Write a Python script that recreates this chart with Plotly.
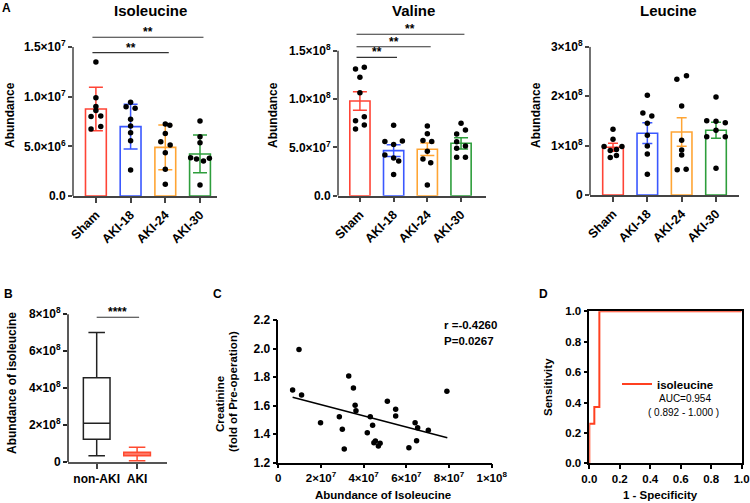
import plotly.graph_objects as go

W, H = 750, 503
FONT = "Liberation Sans, Arial, sans-serif"

groups = ["Sham", "AKI-18", "AKI-24", "AKI-30"]
group_colors = ["#FF4436", "#3A58FF", "#FFA534", "#2E9E3C"]

# Isoleucine (panel A, left)
ile_mean = [8.76e6, 6.98e6, 4.90e6, 4.23e6]
ile_err = [2.2e6, 2.25e6, 2.25e6, 1.9e6]
ile_points = [
    [13.5e6, 9.9e6, 9.0e6, 8.6e6, 8.0e6, 8.05e6, 6.75e6, 7.0e6],
    [8.99e6, 9.43e6, 8.83e6, 7.72e6, 7.05e6, 6.37e6, 5.57e6, 2.62e6],
    [7.25e6, 7.12e6, 6.3e6, 5.47e6, 5.13e6, 4.36e6, 2.69e6, 1.18e6],
    [7.55e6, 5.97e6, 5.37e6, 3.86e6, 3.72e6, 3.52e6, 3.79e6, 1.1e6],
]
ile_jitter = [
    [0, 0, 0, 0, -0.14, 0.14, -0.14, 0.14],
    [-0.13, 0, 0.13, 0, 0, 0, 0, 0],
    [0, 0.13, 0, -0.13, 0.14, 0, 0, 0],
    [0, 0, 0, -0.27, -0.1, 0.1, 0.27, 0],
]
ile_ticks = [0, 5e6, 1e7, 1.5e7]
ile_ticktext = ["0.0", "5.0×10<sup>6</sup>", "1.0×10<sup>7</sup>", "1.5×10<sup>7</sup>"]
ile_sig = [(3, 1.598e7), (2, 1.443e7)]

# Valine (panel A, middle)
val_mean = [9.8e7, 4.66e7, 4.8e7, 5.42e7]
val_err = [9.6e6, 6.0e6, 6.5e6, 5.8e6]
val_points = [
    [13.11e7, 13.28e7, 12.25e7, 10.66e7, 7.76e7, 8.17e7, 6.9e7, 7.31e7],
    [7.3e7, 5.6e7, 5.65e7, 5.3e7, 4.2e7, 3.9e7, 3.6e7, 2.2e7],
    [7.2e7, 6.4e7, 5.7e7, 5.6e7, 4.6e7, 3.8e7, 3.4e7, 1.1e7],
    [7.49e7, 6.8e7, 6.38e7, 5.59e7, 5.14e7, 4.9e7, 3.97e7, 3.97e7],
]
val_jitter = [
    [-0.13, 0.13, 0, 0, -0.13, 0.13, -0.13, 0.13],
    [0, -0.26, 0.26, 0, -0.26, 0, 0.15, 0],
    [0, 0, -0.13, 0.13, 0, -0.13, 0.1, 0],
    [0, 0.13, -0.13, -0.13, 0.13, -0.13, -0.13, 0.13],
]
val_ticks = [0, 5e7, 1e8, 1.5e8]
val_ticktext = ["0.0", "5.0×10<sup>7</sup>", "1.0×10<sup>8</sup>", "1.5×10<sup>8</sup>"]
val_sig = [(3, 1.67e8), (2, 1.541e8), (1, 1.432e8)]

# Leucine (panel A, right)
leu_mean = [0.965e8, 1.25e8, 1.275e8, 1.31e8]
leu_err = [0.8e7, 2.1e7, 2.9e7, 1.6e7]
leu_points = [
    [1.33e8, 1.13e8, 0.98e8, 0.98e8, 0.90e8, 0.92e8, 0.76e8, 0.80e8],
    [2.02e8, 1.66e8, 1.60e8, 1.45e8, 1.21e8, 0.99e8, 0.83e8, 0.42e8],
    [2.34e8, 2.41e8, 1.80e8, 1.11e8, 0.91e8, 0.81e8, 0.51e8, 0.52e8],
    [1.98e8, 1.50e8, 1.49e8, 1.46e8, 1.31e8, 1.18e8, 1.18e8, 0.54e8],
]
leu_jitter = [
    [0, 0, -0.26, 0.26, -0.08, 0.1, -0.08, 0.1],
    [0, -0.13, 0.13, 0, 0, 0, 0, 0],
    [-0.14, 0.14, 0, 0, 0, 0, -0.13, 0.13],
    [0, -0.27, 0, 0.27, 0, -0.27, 0.27, 0],
]
leu_ticks = [0, 1e8, 2e8, 3e8]
leu_ticktext = ["0", "1×10<sup>8</sup>", "2×10<sup>8</sup>", "3×10<sup>8</sup>"]

# Panel B: box plot
box_groups = ["non-AKI", "AKI"]
box_colors = ["#222222", "#FF4A30"]
box_lower = [0.34e8, 0.07e8]
box_q1 = [1.23e8, 0.34e8]
box_median = [2.10e8, 0.43e8]
box_q3 = [4.57e8, 0.53e8]
box_upper = [7.02e8, 0.80e8]
box_ticks = [0, 2e8, 4e8, 6e8, 8e8]
box_ticktext = ["0", "2×10<sup>8</sup>", "4×10<sup>8</sup>", "6×10<sup>8</sup>", "8×10<sup>8</sup>"]
box_sig_y = 7.84e8

# Panel C: correlation
corr_x = [0.67e7, 0.97e7, 1.09e7, 1.98e7, 2.86e7, 3.0e7, 3.09e7, 3.3e7, 3.52e7, 3.6e7,
          3.64e7, 4.17e7, 4.31e7, 4.42e7, 4.48e7, 4.55e7, 4.69e7, 4.77e7, 5.11e7, 5.5e7,
          5.5e7, 6.12e7, 6.41e7, 6.48e7, 6.53e7, 7.03e7, 7.9e7]
corr_y = [1.709, 1.994, 1.674, 1.480, 1.522, 1.434, 1.296, 1.807, 1.723, 1.602,
          1.564, 1.410, 1.522, 1.462, 1.340, 1.352, 1.317, 1.336, 1.630, 1.574,
          1.527, 1.305, 1.480, 1.354, 1.445, 1.427, 1.700]
fit_x = [0.67e7, 7.92e7]
fit_y = [1.658, 1.375]
corr_xticks = [0, 2e7, 4e7, 6e7, 8e7, 1e8]
corr_xticktext = ["0", "2×10<sup>7</sup>", "4×10<sup>7</sup>", "6×10<sup>7</sup>", "8×10<sup>7</sup>", "1×10<sup>8</sup>"]
corr_yticks = [1.2, 1.4, 1.6, 1.8, 2.0, 2.2]

# Panel D: ROC
roc_fpr = [0, 0, 0.033, 0.033, 0.066, 0.066, 1.0]
roc_tpr = [0, 0.26, 0.26, 0.37, 0.37, 1.0, 1.0]
roc_ticks = [0, 0.2, 0.4, 0.6, 0.8, 1.0]


def px_x(p0, p1):
    return [p0 / W, p1 / W]


def px_y(top, bottom):
    return [1 - bottom / H, 1 - top / H]


def tfont(size=11, weight="bold"):
    return dict(family=FONT, size=size, color="black", weight=weight)


fig = go.Figure()
shapes = []
annotations = []

AXC = "#444444"
COMMON = dict(showgrid=False, zeroline=False, automargin=False, ticks="outside", tickwidth=1.5)


def bar_panel(n, means, errs, points, jitter, x_dom, bottom_px, tick_top_px, tickvals, ticktext,
              y_top, x_range, cap, sig=None):
    xa = "x" if n == 1 else f"x{n}"
    ya = "y" if n == 1 else f"y{n}"
    per = (bottom_px - tick_top_px) / tickvals[-1]
    top_px = bottom_px - y_top * per
    for i, g in enumerate(groups):
        c = group_colors[i]
        fig.add_trace(go.Bar(
            x=[i], y=[means[i]], width=0.6, xaxis=xa, yaxis=ya, showlegend=False,
            marker=dict(color="white", line=dict(color=c, width=1.6)),
            error_y=dict(type="data", array=[errs[i]], color=c, thickness=1.5, width=cap),
        ))
        fig.add_trace(go.Scatter(
            x=[i + j for j in jitter[i]], y=points[i], mode="markers", xaxis=xa, yaxis=ya,
            showlegend=False, marker=dict(color="black", size=5.5),
        ))
    lay = {}
    lay["xaxis" if n == 1 else f"xaxis{n}"] = dict(
        domain=px_x(*x_dom), range=x_range, anchor=ya, tickvals=list(range(4)), ticktext=groups,
        tickangle=-45, ticklen=5, tickcolor=AXC,
        showline=True, linecolor=AXC, linewidth=1.5, tickfont=tfont(12.5), **COMMON,
    )
    lay["yaxis" if n == 1 else f"yaxis{n}"] = dict(
        domain=px_y(top_px, bottom_px), range=[0, y_top], anchor=xa, tickvals=tickvals,
        ticktext=ticktext, ticklen=4, tickcolor=AXC,
        showline=False, tickfont=tfont(12), **COMMON,
    )
    fig.update_layout(**lay)
    shapes.append(dict(type="line", xref=f"{xa} domain", yref=ya, x0=0, x1=0, y0=0,
                       y1=tickvals[-1], line=dict(color=AXC, width=1.5)))
    for target, yv in (sig or []):
        shapes.append(dict(type="line", xref=xa, yref=ya, x0=-0.1, x1=target + 0.1, y0=yv, y1=yv,
                           line=dict(color="#333333", width=1.2)))
        annotations.append(dict(xref=xa, yref=ya, x=(target) / 2, y=yv, text="**", showarrow=False,
                                yanchor="bottom", yshift=-4, font=tfont(12)))


bar_panel(1, ile_mean, ile_err, ile_points, ile_jitter, (73, 217), 196, 47, ile_ticks, ile_ticktext,
          1.72e7, [-0.66, 3.49], 7, ile_sig)
bar_panel(2, val_mean, val_err, val_points, val_jitter, (338, 486), 195.7, 50.7, val_ticks, val_ticktext,
          1.82e8, [-0.65, 3.74], 7, val_sig)
bar_panel(3, leu_mean, leu_err, leu_points, leu_jitter, (590, 739), 195, 46.7, leu_ticks, leu_ticktext,
          3.0e8, [-0.67, 3.67], 5)

# Panel B
for i, g in enumerate(box_groups):
    fig.add_trace(go.Box(
        x=[i], q1=[box_q1[i]], median=[box_median[i]], q3=[box_q3[i]],
        lowerfence=[box_lower[i]], upperfence=[box_upper[i]], width=0.66, whiskerwidth=0.62,
        fillcolor="white", line=dict(color=box_colors[i], width=1.5), xaxis="x4", yaxis="y4",
        showlegend=False, boxpoints=False, hoverinfo="skip",
    ))
b_per = (462 - 314.3) / 8e8
b_top = 8.55e8
fig.update_layout(
    xaxis4=dict(domain=px_x(68, 167), range=[-0.71, 1.74], anchor="y4", tickvals=[0, 1],
                ticktext=box_groups, ticklen=5, tickcolor=AXC,
                showline=True, linecolor="#555555", linewidth=1.5, tickfont=tfont(12), **COMMON),
    yaxis4=dict(domain=px_y(462 - b_top * b_per, 462), range=[0, b_top], anchor="x4",
                tickvals=box_ticks, ticktext=box_ticktext, ticklen=4,
                tickcolor="#222222", showline=False, tickfont=tfont(12), **COMMON),
)
shapes.append(dict(type="line", xref="x4 domain", yref="y4", x0=0, x1=0, y0=0, y1=8e8,
                   line=dict(color="#222222", width=1.5)))
shapes.append(dict(type="line", xref="x4", yref="y4", x0=0, x1=1.05, y0=box_sig_y, y1=box_sig_y,
                   line=dict(color="#333333", width=1.2)))
annotations.append(dict(xref="x4", yref="y4", x=0.52, y=box_sig_y, text="****", showarrow=False,
                        yanchor="bottom", yshift=-4, font=tfont(12)))

# Panel C
fig.add_trace(go.Scatter(x=corr_x, y=corr_y, mode="markers", xaxis="x5", yaxis="y5", showlegend=False,
                         marker=dict(color="black", size=5.5)))
fig.add_trace(go.Scatter(x=fit_x, y=fit_y, mode="lines", xaxis="x5", yaxis="y5", showlegend=False,
                         line=dict(color="black", width=1.5)))
fig.update_layout(
    xaxis5=dict(domain=px_x(278.3, 491.7), range=[0, 1e8], anchor="y5", tickvals=corr_xticks,
                ticktext=corr_xticktext, ticklen=4, tickcolor="black",
                showline=True, linecolor="black", linewidth=1.5, tickfont=tfont(11.5), **COMMON),
    yaxis5=dict(domain=px_y(320, 462.7), range=[1.2, 2.2], anchor="x5", tickvals=corr_yticks,
                tickformat=".1f", ticklen=4, tickcolor="black",
                showline=True, linecolor="black", linewidth=1.5, tickfont=tfont(12), **COMMON),
)

# Panel D
fig.add_trace(go.Scatter(x=roc_fpr, y=roc_tpr, mode="lines", xaxis="x6", yaxis="y6", name="isoleucine",
                         showlegend=True, line=dict(color="#FF4020", width=2)))
fig.update_layout(
    xaxis6=dict(domain=px_x(589.3, 741.7), range=[0, 1], anchor="y6", tickvals=roc_ticks,
                tickformat=".1f", ticklen=4, tickcolor="black",
                showline=True, mirror=True, linecolor="black", linewidth=1.5,
                tickfont=tfont(11.5), **COMMON),
    yaxis6=dict(domain=px_y(311.3, 463.3), range=[0, 1], anchor="x6", tickvals=roc_ticks,
                tickformat=".1f", ticklen=4, tickcolor="black",
                showline=True, mirror=True, linecolor="black", linewidth=1.5,
                tickfont=tfont(11.5), **COMMON),
)


def note(text, x, y, size=11, angle=0, weight="bold", xanchor="center"):
    annotations.append(dict(xref="paper", yref="paper", x=x / W, y=1 - y / H, text=text,
                            showarrow=False, textangle=angle, xanchor=xanchor, yanchor="middle",
                            font=tfont(size, weight)))


note("A", 6, 8, 12)
note("B", 8, 294, 12)
note("C", 217, 294, 12)
note("D", 543, 294, 12)
note("Isoleucine", 150, 11, 15)
note("Valine", 413, 11, 15)
note("Leucine", 668, 11, 15)
note("Abundance", 10, 115, 12, angle=-90)
note("Abundance", 273, 115, 12, angle=-90)
note("Abundance", 536, 115, 12, angle=-90)
note("Abundance of isoleucine", 12, 383, 12, angle=-90)
note("Creatinine", 220, 404, 11.5, angle=-90)
note("(fold of Pre-operation)", 233, 391, 11.5, angle=-90)
note("Abundance of Isoleucine", 383, 495, 11.5)
note("1 - Specificity", 660, 495, 11.5)
note("Sensitivity", 548, 387, 11.5, angle=-90)
note("r =-0.4260", 442, 325, 11.5, xanchor="left")
note("P=0.0267", 442, 341, 11.5, xanchor="left")
note("AUC=0.954", 685, 398, 10, weight="normal")
note("( 0.892 - 1.000 )", 683, 412, 10, weight="normal")

fig.update_layout(
    width=W, height=H, margin=dict(l=0, r=0, t=0, b=0), paper_bgcolor="white", plot_bgcolor="white",
    barmode="overlay", shapes=shapes, annotations=annotations,
    legend=dict(x=617 / W, y=1 - 384 / H, xanchor="left", yanchor="middle", bgcolor="rgba(0,0,0,0)",
                font=tfont(11.5)),
    font=dict(family=FONT, color="black"),
)

# the page body has a default margin; drop it so the figure sits at the top-left corner
fig.write_html("out.html", config={"displayModeBar": False},
               post_script="document.body.style.margin = '0';")
